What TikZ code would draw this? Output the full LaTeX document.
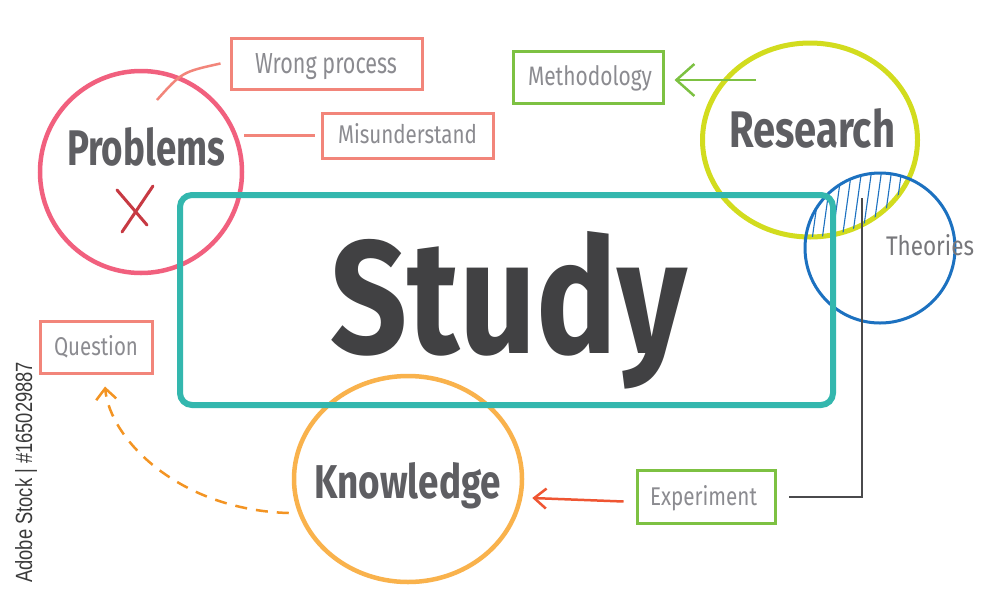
\documentclass[tikz,border=0pt]{standalone}
\usepackage{fontspec}
\setmainfont{Fira Sans}
\newfontfamily\wmfont{Liberation Sans}
\usetikzlibrary{shapes.geometric,arrows.meta,calc}
\definecolor{cpink}{HTML}{F1607E}
\definecolor{csalmon}{HTML}{F2857A}
\definecolor{cxred}{HTML}{C73A43}
\definecolor{cteal}{HTML}{33B7AE}
\definecolor{cyel}{HTML}{D2DC1E}
\definecolor{cgreen}{HTML}{7DC142}
\definecolor{cblue}{HTML}{1C71C0}
\definecolor{corange}{HTML}{F9B24C}
\definecolor{cdash}{HTML}{F39423}
\definecolor{cred}{HTML}{EF5532}
\definecolor{cgray}{HTML}{4A4A4C}
\definecolor{tdark}{HTML}{414143}
\definecolor{tmid}{HTML}{5E5E62}
\definecolor{tlight}{HTML}{8B8B90}
\definecolor{ttheo}{HTML}{77777B}
\definecolor{cwm}{HTML}{3A3A3A}
\newcommand\fitt[3]{\resizebox{#1pt}{#2pt}{#3}}
\tikzset{
  bubble/.style={ellipse, draw, inner sep=0pt, line width=4.5pt},
  tagbox/.style={rectangle, draw, inner sep=0pt, line width=3pt},
  lbl/.style={anchor=base west, inner sep=0pt, outer sep=0pt},
  biglbl/.style={lbl, text=tmid, font=\bfseries},
  smalllbl/.style={lbl, text=tlight},
  conn/.style={line width=2.5pt},
}
\begin{document}
\begin{tikzpicture}[x=1pt,y=-1pt]
\fill[white] (0,0) rectangle (1000,600);
\useasboundingbox (0,0) rectangle (1000,600);

% circles
\node[bubble, draw=cpink, minimum width=202pt, minimum height=202pt] (prob) at (141,172) {};
\node[bubble, draw=cyel, line width=5pt, minimum width=215pt, minimum height=194pt] (res) at (810,140) {};
\node[bubble, draw=cblue, line width=3pt, minimum width=150pt, minimum height=150pt] (theo) at (880,248) {};
\node[bubble, draw=corange, minimum width=228pt, minimum height=206pt] (know) at (408,479) {};

% hatching in the overlap of Research and Theories
\begin{scope}
  \clip (810,140) ellipse [x radius=107.5, y radius=97];
  \clip (880,248) circle [radius=75];
  \foreach \x in {812,822,...,902} \draw[cblue, line width=1.1pt] (\x,168) -- (\x-10,240);
\end{scope}

% boxes
\node[tagbox, draw=csalmon, minimum width=191pt, minimum height=51pt] (wrong) at (326.5,63.5) {};
\node[tagbox, draw=csalmon, minimum width=171pt, minimum height=45pt] (mis) at (407.5,135.5) {};
\node[tagbox, draw=cgreen, minimum width=150pt, minimum height=52pt] (meth) at (588,77) {};
\node[tagbox, draw=cgreen, minimum width=138pt, minimum height=53pt] (exp) at (706,496.5) {};
\node[tagbox, draw=csalmon, minimum width=112pt, minimum height=52pt] (quest) at (96,347) {};

% study box
\node[draw=cteal, line width=6pt, rounded corners=12pt, minimum width=653pt, minimum height=210pt, inner sep=0pt] (studybox) at (506.5,300) {};

% labels
\node[lbl, text=tdark, font=\bfseries] (study) at (330,353) {\fitt{357}{122}{Study}};
\node[biglbl] (tprob) at (67,165) {\fitt{158}{38}{Problems}};
\node[biglbl] (tres) at (729,147) {\fitt{166}{39}{Research}};
\node[biglbl] (tknow) at (314,498) {\fitt{187}{36}{Knowledge}};
\node[lbl, text=ttheo] (ttheo) at (886,255) {\fitt{88}{21}{Theories}};
\node[smalllbl] (twrong) at (255,73) {\fitt{142}{20}{Wrong process}};
\node[smalllbl] (tmis) at (338,143) {\fitt{139}{20}{Misunderstand}};
\node[smalllbl] (tmeth) at (528,85) {\fitt{124}{20}{Methodology}};
\node[smalllbl] (texp) at (650,505) {\fitt{107}{20}{Experiment}};
\node[smalllbl] (tquest) at (54,355) {\fitt{84}{20}{Question}};

% X mark
\draw[cxred, line width=3pt, line cap=round] (117,190) -- (147,225);
\draw[cxred, line width=3pt, line cap=round] (153,186) -- (122,232);

% connectors
\coordinate (ws) at (157,100);
\draw[csalmon, conn] (ws) .. controls (182,72) .. ($(wrong.west)+(-9,0)$);
\draw[csalmon, conn] (prob.east |- mis.west) -- ($(mis.west)+(-6,0)$);
\coordinate (ma) at (756,80);
\draw[cgreen, conn, -{Straight Barb[length=18pt,width=32pt]}] (ma) -- ($(meth.east)+(10,3)$);
\draw[cred, conn, -{Straight Barb[length=12pt,width=20pt]}] ($(exp.west)+(-12,5)$) -- ($(know.east)+(8,19)$);
\draw[cdash, conn, dash pattern=on 12pt off 9pt, -{Straight Barb[length=11pt,width=20pt]}]
  ($(know.west)+(-3,34)$) .. controls (180,510) and (110,440) .. ($(quest.south)+(9,12)$);
\coordinate (gt) at (862,198);
\draw[cgray, line width=1.8pt] (gt) |- ($(exp.east)+(12,0.5)$);

% side text
\node[rotate=90, anchor=base west, inner sep=0pt, text=cwm] (wm) at (32,583) {\fitt{221}{17}{\wmfont Adobe Stock | \#165029887}};
\end{tikzpicture}
\end{document}
